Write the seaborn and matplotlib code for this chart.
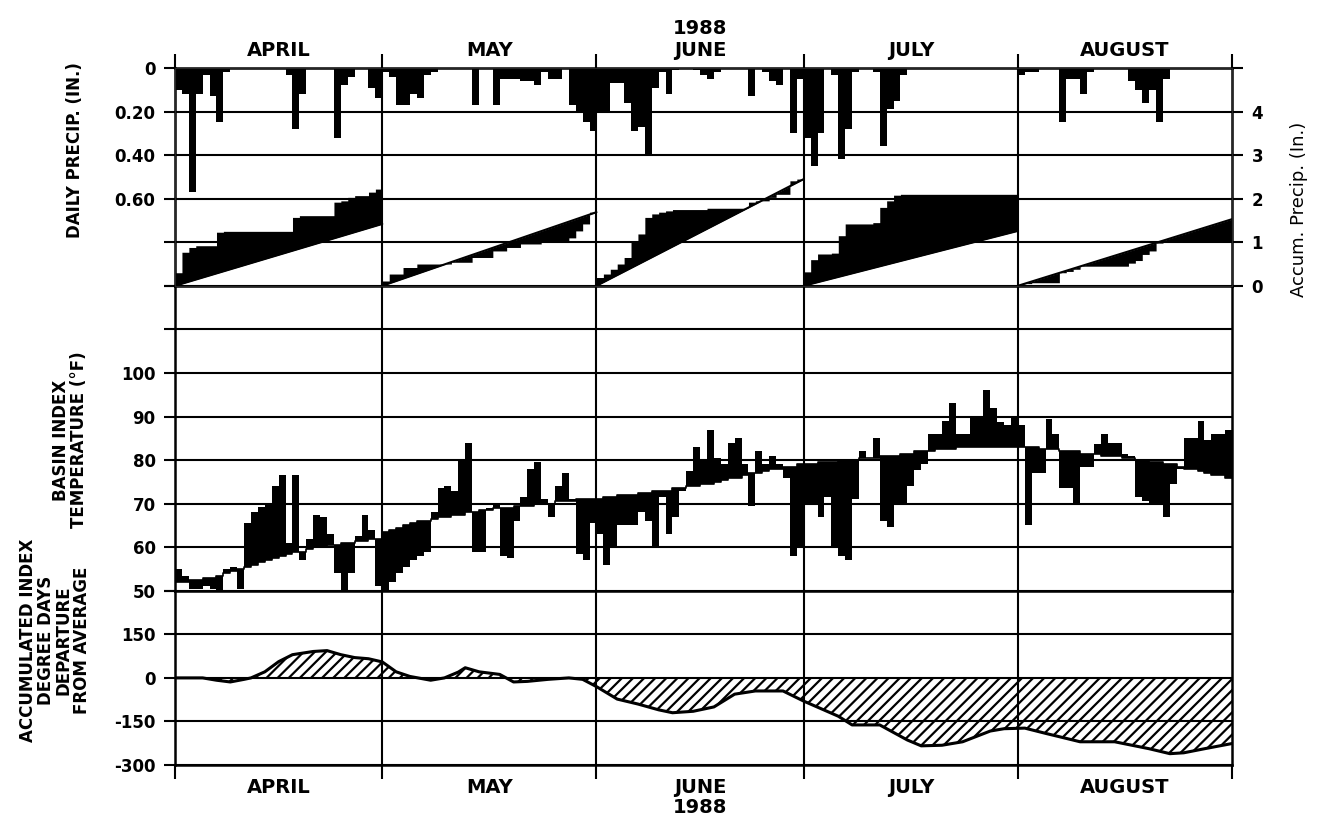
import matplotlib
matplotlib.use('Agg')
import numpy as np
import pandas as pd
import matplotlib.pyplot as plt
import matplotlib.transforms as mtransforms
import seaborn as sns

sns.set_style('white')
plt.rcParams['font.family'] = ['DejaVu Sans']
plt.rcParams['hatch.linewidth'] = 1.6
for key in ('text.color', 'axes.labelcolor', 'xtick.color', 'ytick.color'):
    plt.rcParams[key] = 'black'

MONTHS = ['APRIL', 'MAY', 'JUNE', 'JULY', 'AUGUST']
MONTH_DAYS = [30, 31, 30, 31, 31]
NORMAL_PRECIP = [1.42, 1.69, 2.45, 1.26, 1.53]   # monthly normal totals (in.)

# daily precipitation (in.)
APR_PRECIP = [0.10, 0.12, 0.57, 0.12, 0.03, 0.13, 0.25, 0.02, 0, 0, 0, 0, 0, 0, 0,
              0, 0.03, 0.28, 0.12, 0, 0, 0, 0, 0.32, 0.08, 0.04, 0, 0, 0.09, 0.14]
MAY_PRECIP = [0.02, 0.04, 0.17, 0.17, 0.12, 0.14, 0.03, 0.02, 0, 0, 0, 0, 0, 0.17, 0, 0,
              0.17, 0.05, 0.05, 0.05, 0.06, 0.06, 0.08, 0.02, 0.05, 0.05, 0, 0.17, 0.20, 0.25, 0.29]
JUN_PRECIP = [0.20, 0.20, 0.07, 0.07, 0.16, 0.29, 0.27, 0.40, 0.09, 0.02, 0.12, 0.01, 0, 0, 0.01,
              0.03, 0.05, 0.02, 0, 0, 0, 0, 0.13, 0, 0.02, 0.06, 0.08, 0, 0.30, 0.05]
JUL_PRECIP = [0.32, 0.45, 0.30, 0, 0.03, 0.42, 0.28, 0.02, 0, 0, 0.02, 0.36, 0.19, 0.15, 0.03, 0,
              0, 0, 0, 0, 0, 0, 0, 0, 0, 0, 0, 0, 0, 0, 0]
AUG_PRECIP = [0.03, 0.02, 0.02, 0, 0, 0, 0.25, 0.05, 0.05, 0.12, 0.02, 0, 0, 0, 0, 0,
              0.06, 0.10, 0.16, 0.10, 0.25, 0.05, 0, 0, 0, 0, 0, 0, 0, 0, 0]

# accumulated precipitation within each month (in.)
APR_ACCUM = [0.30, 0.77, 0.88, 0.92, 0.92, 0.92, 1.23, 1.25, 1.25, 1.25, 1.25, 1.25, 1.25, 1.25, 1.25,
             1.25, 1.25, 1.57, 1.61, 1.61, 1.61, 1.61, 1.61, 1.92, 1.95, 2.03, 2.07, 2.07, 2.15, 2.22]
MAY_ACCUM = [0.11, 0.27, 0.27, 0.42, 0.42, 0.50, 0.50, 0.50, 0.50, 0.50, 0.54, 0.54, 0.54, 0.65, 0.65, 0.65,
             0.80, 0.80, 0.88, 0.88, 0.96, 0.96, 0.96, 1.00, 1.00, 1.00, 1.03, 1.10, 1.26, 1.42, 1.69]
JUN_ACCUM = [0.19, 0.27, 0.38, 0.50, 0.65, 1.00, 1.19, 1.57, 1.65, 1.69, 1.72, 1.75, 1.75, 1.75, 1.75,
             1.75, 1.78, 1.78, 1.78, 1.78, 1.78, 1.78, 1.92, 1.95, 1.95, 2.03, 2.10, 2.10, 2.41, 2.45]
JUL_ACCUM = [0.32, 0.60, 0.73, 0.73, 0.75, 1.15, 1.42, 1.42, 1.42, 1.42, 1.45, 1.80, 1.95, 2.08, 2.10, 2.10,
             2.10, 2.10, 2.10, 2.10, 2.10, 2.10, 2.10, 2.10, 2.10, 2.10, 2.10, 2.10, 2.10, 2.10, 2.10]
AUG_ACCUM = [0.03, 0.05, 0.07, 0.07, 0.07, 0.07, 0.30, 0.33, 0.38, 0.45, 0.45, 0.45, 0.45, 0.45, 0.45, 0.45,
             0.52, 0.58, 0.72, 0.80, 0.98, 1.02, 1.02, 1.02, 1.02, 1.02, 1.02, 1.02, 1.02, 1.02, 1.02]

# basin index temperature (F), observed and normal
APR_T = [55, 53.5, 50.5, 50.5, 51, 50.5, 50, 55, 55.5, 50.5, 65.5, 68, 69.3, 70, 74,
         76.5, 61, 76.5, 57, 62, 67.4, 67, 63, 54, 50, 54, 62.5, 67.4, 64, 51]
APR_N = [52, 52, 52.5, 52.5, 53, 53, 53.5, 54, 54.5, 55, 55.5, 56, 56.5, 57, 57.5,
         58, 58.5, 59, 59, 59.5, 60, 60, 60.5, 60.5, 61, 61, 61.5, 61.5, 62, 62]
MAY_T = [50, 52, 54, 55.5, 57, 58, 59, 68, 73.5, 74, 73, 80, 84, 59, 59, 69,
         70, 58, 57.5, 66, 71.5, 78, 79.5, 71, 67, 74, 77, 71, 58.5, 57, 65.5]
MAY_N = [63.5, 64, 64.5, 65, 65.5, 66, 66, 66.5, 67, 67, 67.5, 67.5, 68, 68, 68.5, 68.5,
         69, 69, 69, 69.5, 69.5, 69.5, 70, 70, 70, 70.5, 70.5, 70.5, 71, 71, 71]
JUN_T = [63, 56, 60, 65, 65, 65, 68, 66, 60, 71.5, 63, 67, 73, 77.5, 83,
         80, 87, 80.5, 79, 84, 85, 79, 69.5, 82, 79, 81, 79, 76, 58, 60]
JUN_N = [71, 71.5, 71.5, 72, 72, 72, 72.5, 72.5, 73, 73, 73, 73.5, 73.5, 74, 74,
         74.5, 74.5, 75, 75.5, 76, 76, 76.5, 77, 77, 77.5, 78, 78, 78.5, 78.5, 79]
JUL_T = [70, 70, 67, 71.6, 60, 58, 57, 71, 82, 80.5, 85, 66, 64.7, 70, 70, 74,
         77.7, 79, 86, 86, 89, 93, 86, 86, 90, 90, 96, 92, 88.7, 88, 90]
JUL_N = [79, 79, 79.5, 79.5, 79.5, 80, 80, 80, 80.5, 80.5, 80.5, 81, 81, 81, 81.5, 81.5,
         82, 82, 82, 82.5, 82.5, 82.5, 83, 83, 83, 83, 83, 83, 83, 83, 83]
AUG_T = [88, 65, 77, 77, 89.5, 86, 73.5, 73.5, 69.7, 78.5, 78.5, 83.8, 86, 84, 84, 81.5,
         81, 71.6, 70.5, 70, 70, 67, 74.6, 78, 85, 85, 89, 84.5, 86, 86, 86.8]
AUG_N = [83, 83, 83, 82.5, 82.5, 82.5, 82, 82, 82, 81.5, 81.5, 81.5, 81, 81, 81, 80.5,
         80.5, 80, 80, 79.5, 79.5, 79, 79, 78.5, 78, 78, 77.5, 77, 76.5, 76.5, 76]

# accumulated degree-day departure, read at day positions (days since Apr 1)
DD_DAY = [0, 4, 6, 8, 10, 11, 13, 15, 17, 20, 22, 24, 26, 28, 30, 32, 34, 37, 39, 41, 42, 44,
          47, 49, 51, 54, 57, 59, 61, 64, 67, 70, 72, 75, 78, 81, 84, 88, 91, 96, 98, 102,
          106, 108, 111, 114, 118, 120, 123, 126, 131, 136, 141, 144, 146, 149, 153]
DD_VAL = [0, 0, -8, -14, -5, 0, 21, 56, 80, 91, 94, 80, 70, 66, 55, 21, 5, -8, 0, 20, 35, 21,
          12, -14, -12, -5, 0, -5, -30, -73, -90, -110, -120, -115, -100, -56, -45, -45, -80, -132, -162, -162,
          -214, -234, -232, -220, -183, -175, -173, -191, -220, -220, -244, -261, -258, -244, -226]

precip = APR_PRECIP + MAY_PRECIP + JUN_PRECIP + JUL_PRECIP + AUG_PRECIP
accum_by_month = [APR_ACCUM, MAY_ACCUM, JUN_ACCUM, JUL_ACCUM, AUG_ACCUM]
temp = np.array(APR_T + MAY_T + JUN_T + JUL_T + AUG_T)
normal = np.array(APR_N + MAY_N + JUN_N + JUL_N + AUG_N)

starts = np.concatenate([[0], np.cumsum(MONTH_DAYS)])
total_days = starts[-1]
day_x = np.arange(total_days) + 0.5

fig = plt.figure(figsize=(13.2, 8.25), dpi=100)
L, W = 0.1326, 0.8008
ax1 = fig.add_axes([L, 0.65358, W, 0.26400])
ax2 = fig.add_axes([L, 0.28388, W, 0.36970])
ax3 = fig.add_axes([L, 0.07273, W, 0.21115])
ax1b = ax1.twinx()

tick_font = dict(fontsize=12, fontweight='bold')

# --- precipitation panel ---
ax1.bar(day_x, precip, width=1.0, color='black', linewidth=0)
ax1.set_ylim(1.0, 0)
ax1.set_yticks([0, 0.2, 0.4, 0.6, 0.8, 1.0])
ax1.set_yticklabels(['0', '0.20', '0.40', '0.60', '', ''], **tick_font)

for s, n, norm, acc in zip(starts[:-1], MONTH_DAYS, NORMAL_PRECIP, accum_by_month):
    edges = s + np.arange(n + 1)
    xs = np.repeat(edges, 2)[1:-1]
    ys = np.repeat(acc, 2)
    line = norm * (xs - s) / n
    ax1b.fill_between(np.concatenate([[s], xs]), np.concatenate([[0], ys]),
                      np.concatenate([[0], line]), color='black', linewidth=0)
    ax1b.plot([s, s + n], [0, norm], color='black', lw=1.5)
ax1b.set_ylim(0, 5)
ax1b.set_yticks([0, 1, 2, 3, 4, 5])
ax1b.set_yticklabels(['0', '1', '2', '3', '4', ''], **tick_font)
ax1b.tick_params(axis='y', direction='out', length=8, width=1.5, pad=6)
ax1b.set_ylabel('Accum. Precip. (In.)', fontsize=13, labelpad=12)
ax1b.yaxis.set_label_coords(1.055, 0.35)

# --- temperature panel ---
ax2.bar(day_x, temp - normal, bottom=normal, width=1.0, color='black', linewidth=0)
ax2.step(np.append(starts[0] + np.arange(total_days), total_days),
         np.append(normal, normal[-1]), where='post', color='black', lw=1.2)
ax2.set_ylim(50, 120)
ax2.set_yticks(range(50, 121, 10))
ax2.set_yticklabels(['50', '60', '70', '80', '90', '100', '', ''], **tick_font)

# --- degree day panel ---
dd = pd.DataFrame({'day': DD_DAY, 'dep': DD_VAL})
ax3.fill_between(dd['day'], 0, dd['dep'], facecolor='white', edgecolor='black',
                 hatch='///', linewidth=0)
sns.lineplot(data=dd, x='day', y='dep', ax=ax3, color='black', lw=2.2)
ax3.set_ylim(-300, 300)
ax3.set_yticks([-300, -150, 0, 150, 300])
ax3.set_yticklabels(['-300', '-150', '0', '150', ''], **tick_font)
ax3.set_xlabel('')
ax3.set_ylabel('')

for ax in (ax1, ax2, ax3):
    ax.set_xlim(0, total_days)
    ax.grid(axis='y', color='black', lw=1.5)
    ax.grid(axis='x', visible=False)
    for b in starts[1:-1]:
        ax.axvline(b, color='black', lw=1.5)
    for sp in ax.spines.values():
        sp.set_color('black')
        sp.set_linewidth(1.8)
    ax.tick_params(axis='y', direction='out', length=8, width=1.5, left=True, pad=6)
    ax.set_xticks(starts)
    ax.set_xticklabels([])
    ax.tick_params(axis='x', bottom=False, top=False)
    ax.set_axisbelow(False)

ax1.tick_params(axis='x', top=True, direction='out', length=10, width=1.5)
ax3.tick_params(axis='x', bottom=True, direction='out', length=10, width=1.5)

# month labels
mids = (starts[:-1] + starts[1:]) / 2
top_tr = mtransforms.blended_transform_factory(ax1.transData, fig.transFigure)
for m, name in zip(mids, MONTHS):
    ax1.text(m, 0.939, name, transform=top_tr, ha='center', va='center',
             fontsize=14, fontweight='bold')
    ax1.text(m, 0.046, name, transform=top_tr, ha='center', va='center',
             fontsize=14, fontweight='bold')
ax1.text(mids[2], 0.966, '1988', transform=top_tr, ha='center', va='center',
         fontsize=14, fontweight='bold')
ax1.text(mids[2], 0.021, '1988', transform=top_tr, ha='center', va='center',
         fontsize=14, fontweight='bold')

# left axis titles
fig.text(75 / 1320, 1 - 150 / 825, 'DAILY PRECIP. (IN.)', rotation=90,
         ha='center', va='center', fontsize=12, fontweight='bold')
fig.text(70 / 1320, 1 - 440 / 825, 'BASIN INDEX\nTEMPERATURE (°F)', rotation=90,
         ha='center', va='center', fontsize=12, fontweight='bold',
         multialignment='center', linespacing=1.0)
fig.text(55 / 1320, 1 - 640 / 825,
         'ACCUMULATED INDEX\nDEGREE DAYS\nDEPARTURE\nFROM AVERAGE', rotation=90,
         ha='center', va='center', fontsize=12, fontweight='bold',
         multialignment='center', linespacing=1.0)

fig.savefig('out.png', dpi=100, facecolor='white')
